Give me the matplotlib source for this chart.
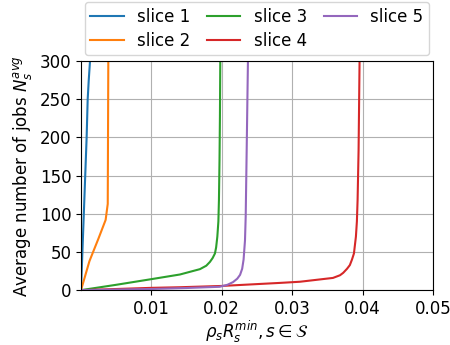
import matplotlib
matplotlib.use("Agg")
import matplotlib.pyplot as plt

# values (x = rho_s * R_s^min, y = N_s^avg)
s1_x = [0.0, 0.0002, 0.0004, 0.0006, 0.0008, 0.00095, 0.0011, 0.00128]
s1_y = [0, 50, 100, 150, 200, 250, 275, 300]

s2_x = [0.0, 0.0012, 0.0025, 0.0035, 0.0037, 0.0038, 0.00388]
s2_y = [0, 38, 68, 92, 106, 113, 300]

s3_x = [0.0, 0.005, 0.01, 0.01406, 0.0169, 0.0178, 0.01832, 0.0187, 0.01903, 0.0192,
        0.01937, 0.01952, 0.0196, 0.01968, 0.01974, 0.01979]
s3_y = [0, 7, 14.4, 20.5, 27.5, 32, 37, 42, 48, 56, 70, 90, 118, 170, 227, 300]

s4_x = [0.0, 0.01, 0.014, 0.02, 0.0283, 0.0311, 0.0358, 0.0368, 0.03726, 0.0378, 0.0382,
        0.0385, 0.03878, 0.03906, 0.0392, 0.0393, 0.03944, 0.03958]
s4_y = [0, 3, 3.8, 5.5, 9.5, 11, 16, 19.5, 22.7, 28, 32.8, 40, 48, 70, 90, 118, 183, 300]

s5_x = [0.0, 0.01, 0.015, 0.0197, 0.0208, 0.0216, 0.0222, 0.0226, 0.0229, 0.0231, 0.0233,
        0.0234, 0.02354, 0.02372]
s5_y = [0, 1.5, 2.8, 4.4, 7, 10.5, 15, 20, 28, 40, 65, 96, 183, 300]

labels = ["slice 1", "slice 2", "slice 3", "slice 4", "slice 5"]
xticks = [0.01, 0.02, 0.03, 0.04, 0.05]
yticks = [0, 50, 100, 150, 200, 250, 300]

fig = plt.figure(figsize=(4.5, 3.45), dpi=100)
ax = fig.add_axes([0.18, 0.159, 0.782, 0.664])

series = [(s1_x, s1_y), (s2_x, s2_y), (s3_x, s3_y), (s4_x, s4_y), (s5_x, s5_y)]
for (xs, ys), lab in zip(series, labels):
    ax.plot(xs, ys, label=lab, linewidth=1.5)

ax.set_xlim(0, 0.05)
ax.set_ylim(0, 300)
ax.set_xticks(xticks)
ax.set_yticks(yticks)
ax.tick_params(labelsize=12)
ax.grid(True, color="#b0b0b0", linewidth=0.8)
ax.set_xlabel(r"$\rho_s R_s^{min}, s \in \mathcal{S}$", fontsize=12, labelpad=1)
ax.set_ylabel(r"Average number of jobs $N_s^{avg}$", fontsize=12)

ax.legend(ncol=3, loc="lower center", bbox_to_anchor=(0.5, 1.01),
          fontsize=12, borderaxespad=0.2, columnspacing=1.0,
          handletextpad=0.8, borderpad=0.35, labelspacing=0.35)

fig.savefig("out.png", dpi=100)
